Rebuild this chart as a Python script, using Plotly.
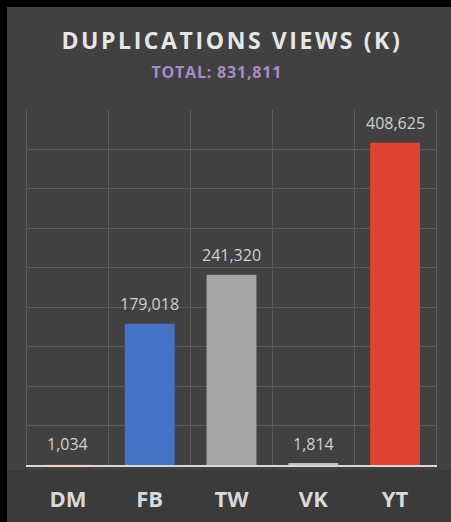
import plotly.graph_objects as go

categories = ["DM", "FB", "TW", "VK", "YT"]
views_k = [1034, 179018, 241320, 1814, 408625]
bar_colors = ["#7A3E28", "#4472C4", "#A5A5A5", "#BFBFBF", "#E0432F"]
title_text = "DUPLICATIONS VIEWS (K)"
subtitle_text = "TOTAL: 831,811"
y_max = 450000
y_step = 50000

W, H = 451, 522
ml, mr, mt, mb = 27, 15, 110, 57
pw, ph = W - ml - mr, H - mt - mb

def px_x(x):
    return (x - ml) / pw

def px_y(y):
    return (H - mb - y) / ph

fig = go.Figure()
fig.add_trace(go.Bar(
    x=categories, y=views_k,
    marker=dict(color=bar_colors, line=dict(width=0)),
    width=0.61,
    hoverinfo="skip",
))

for c, v in zip(categories, views_k):
    fig.add_annotation(
        x=c, y=v, xref="x", yref="y",
        text=f"{v:,}", showarrow=False,
        yanchor="bottom", yshift=7,
        font=dict(family="Open Sans", size=16, color="#D0D0D0"),
    )

# card background (slightly darker towards the bottom)
fig.add_shape(type="rect", xref="paper", yref="paper",
              x0=px_x(7), x1=px_x(W + 5), y0=px_y(H + 5), y1=px_y(7),
              fillcolor="#414141", line=dict(width=0), layer="below")
fig.add_shape(type="rect", xref="paper", yref="paper",
              x0=px_x(7), x1=px_x(W + 5), y0=px_y(H + 5), y1=px_y(470),
              fillcolor="#3B3B3B", line=dict(width=0), layer="below")

fig.add_annotation(
    xref="paper", yref="paper", x=px_x(232), y=px_y(40),
    text=f"<b>{title_text}</b>", showarrow=False, xanchor="center", yanchor="middle",
    font=dict(family="Open Sans", size=23, color="#E6E6E6"),
)
fig.add_annotation(
    xref="paper", yref="paper", x=px_x(217), y=px_y(72),
    text=f"<b>{subtitle_text}</b>", showarrow=False, xanchor="center", yanchor="middle",
    font=dict(family="Open Sans", size=16, color="#A98BC8"),
)

fig.update_layout(
    width=W, height=H,
    margin=dict(l=ml, r=mr, t=mt, b=mb, pad=0, autoexpand=False),
    paper_bgcolor="#000000",
    plot_bgcolor="#474747",
    showlegend=False,
    bargap=0.39,
    xaxis=dict(
        type="category",
        tickson="boundaries",
        automargin=False,
        showgrid=True, gridcolor="#5C5C5C", gridwidth=1,
        showline=True, linecolor="#D9D9D9", linewidth=2,
        ticks="", ticklabelstandoff=14,
        tickfont=dict(family="Open Sans", size=22, color="#D9D9D9", weight="bold"),
        fixedrange=True,
    ),
    yaxis=dict(
        range=[0, y_max], dtick=y_step,
        automargin=False,
        showgrid=True, gridcolor="#5C5C5C", gridwidth=1,
        showticklabels=False, zeroline=False,
        showline=True, linecolor="#5C5C5C", linewidth=1, mirror=True,
        fixedrange=True,
    ),
)

post = """
var t = document.querySelectorAll('.annotation-text');
t.forEach(function(e){
  if (e.textContent.indexOf('DUPLICATIONS') >= 0) { e.style.letterSpacing = '2.6px'; }
  if (e.textContent.indexOf('TOTAL') >= 0) { e.style.letterSpacing = '0.8px'; }
});
"""
fig.write_html("out.html", post_script=post, config={"displayModeBar": False})
